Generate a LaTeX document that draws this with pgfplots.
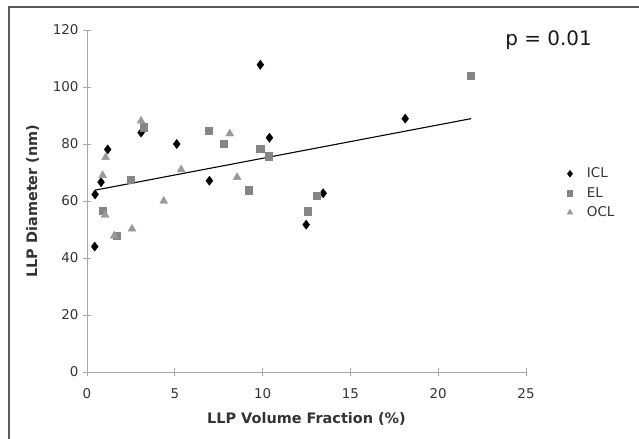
\documentclass[border=0pt]{standalone}
\usepackage{pgfplots}
\pgfplotsset{compat=1.18}
\usepackage{fontspec}
\setmainfont{DejaVu Sans}
\definecolor{axgray}{HTML}{A8A8A8}
\definecolor{txtgray}{HTML}{333333}
\definecolor{elgray}{HTML}{858585}
\definecolor{oclgray}{HTML}{9A9A9A}
\begin{document}
\begin{tikzpicture}[x=1bp,y=1bp]
\path[use as bounding box] (0,0) rectangle (639,439);
\draw[color=black!65, line width=1.3bp] (9,-2) -- (9,432) -- (641,432);
\begin{axis}[
  at={(87bp,67bp)}, anchor=south west,
  scale only axis, width=439bp, height=342bp,
  xmin=0, xmax=25, ymin=0, ymax=120,
  xtick={0,5,...,25}, ytick={0,20,...,120},
  axis lines=left,
  axis line style={axgray, -, line width=0.8bp},
  every tick/.style={axgray, line width=0.8bp},
  tick align=center, major tick length=8bp,
  tick label style={font=\fontsize{13.5}{15}\selectfont, text=txtgray},
  /pgf/number format/assume math mode=true,
  xticklabel style={yshift=-9bp},
  yticklabel style={xshift=-1bp},
  xlabel={\textbf{LLP Volume Fraction (\%)}},
  ylabel={\textbf{LLP Diameter (nm)}},
  label style={font=\fontsize{14.5}{16}\selectfont, text=txtgray},
  xlabel style={yshift=-7bp},
  ylabel style={yshift=7bp},
  legend style={at={(1.093,0.523)}, anchor=west, draw=none, fill=none,
    font=\fontsize{13.5}{15}\selectfont, text=txtgray, row sep=4bp,
    inner xsep=0pt, /tikz/every odd column/.append style={column sep=12bp}},
  legend cell align=left,
  clip=false,
]
\addlegendimage{only marks, mark=diamond*, mark size=3.4bp, black}
\addlegendentry{ICL}
\addlegendimage{only marks, mark=square*, mark size=2.6bp, elgray}
\addlegendentry{EL}
\addlegendimage{only marks, mark=triangle*, mark size=3.4bp, oclgray}
\addlegendentry{OCL}
\addplot[only marks, mark=diamond*, mark size=4.6bp, black, mark options={fill=black}, forget plot] coordinates {
(0.44,44) (0.46,62.3) (0.8,66.6) (1.18,78.1) (3.08,84) (5.11,80) (6.97,67.1)
(9.87,107.8) (10.39,82.2) (12.48,51.7) (13.45,62.7) (18.12,88.9)};
\addplot[only marks, mark=square*, mark size=3.6bp, elgray, mark options={fill=elgray}, forget plot] coordinates {
(0.89,56.5) (1.69,47.7) (2.51,67.4) (3.23,85.9) (6.91,84.6) (7.79,80) (9.19,63.8)
(9.86,78.4) (10.33,75.7) (12.59,56.4) (13.1,61.8) (21.84,103.9)};
\addplot[only marks, mark=triangle*, mark size=4.6bp, oclgray, mark options={fill=oclgray}, forget plot] coordinates {
(0.89,69) (1.03,55.1) (1.06,75.3) (1.55,47.8) (2.56,50.2) (3.08,88.1) (4.37,60)
(5.36,71) (8.13,83.6) (8.55,68.3)};
\addplot[black, line width=1.1bp, forget plot] coordinates {(0.46,63.8) (21.88,88.9)};
\node[anchor=west, font=\fontsize{20}{23}\selectfont, text=black!90] at (rel axis cs:0.945,0.97) {p = 0.01};
\end{axis}
\end{tikzpicture}
\end{document}
